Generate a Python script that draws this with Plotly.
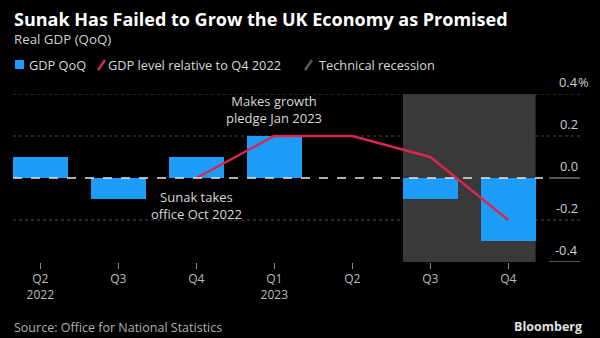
import plotly.graph_objects as go

# ---- data ----
quarters = ["Q2<br>2022", "Q3", "Q4", "Q1<br>2023", "Q2", "Q3", "Q4"]
gdp_qoq = [0.1, -0.1, 0.1, 0.2, 0.0, -0.1, -0.3]
level_quarters_idx = [2, 3, 4, 5, 6]
gdp_level_vs_q4_2022 = [0.0, 0.2, 0.2, 0.1, -0.2]
recession_idx = [5, 6]
ytick_vals = [0.4, 0.2, 0.0, -0.2, -0.4]
ytick_text = ["0.4", "0.2", "0.0", "-0.2", "-0.4"]

W, H = 600, 338
ML, MR, MT, MB = 13, 20, 94, 76
PW, PH = W - ML - MR, H - MT - MB
BAR_W = 0.7
PX_PER_CAT = (508 - 40) / 6

def px_x(px):
    return (px - ML) / PW

def px_y(py):
    return (H - MB - py) / PH

FONT = "Open Sans"
BLUE = "#1E9CFA"
RED = "#D9264E"
SHADE = "#393939"
GRID = "#4d4d4d"

x_idx = list(range(len(quarters)))

fig = go.Figure()
fig.add_trace(go.Bar(x=x_idx, y=gdp_qoq, width=BAR_W, marker=dict(color=BLUE, line=dict(width=0)),
                     name="GDP QoQ", showlegend=False))
fig.add_trace(go.Scatter(x=level_quarters_idx, y=gdp_level_vs_q4_2022, mode="lines",
                         line=dict(color=RED, width=2.5), name="GDP level relative to Q4 2022",
                         showlegend=False))

shapes = []
shapes.append(dict(type="rect", xref="x", yref="y", x0=min(recession_idx) - BAR_W / 2,
                   x1=max(recession_idx) + BAR_W / 2, y0=min(ytick_vals), y1=max(ytick_vals),
                   fillcolor=SHADE, line=dict(width=0), layer="below"))
for v in ytick_vals:
    if v == 0:
        shapes.append(dict(type="line", xref="paper", yref="y", x0=0, x1=px_x(543), y0=v, y1=v,
                           line=dict(color="#e6e6e6", width=1.5, dash="dash"), layer="above"))
        shapes.append(dict(type="line", xref="paper", yref="y", x0=px_x(549), x1=1, y0=v, y1=v,
                           line=dict(color="#8a8a8a", width=1.2), layer="above"))
    elif v == min(ytick_vals):
        shapes.append(dict(type="line", xref="paper", yref="y", x0=px_x(549), x1=1, y0=v, y1=v,
                           line=dict(color="#8a8a8a", width=1.2), layer="above"))
    else:
        shapes.append(dict(type="line", xref="paper", yref="y", x0=0, x1=1, y0=v, y1=v,
                           line=dict(color=GRID, width=1, dash="dot"), layer="below"))

shapes.append(dict(type="rect", xref="paper", yref="paper", x0=px_x(15), x1=px_x(24),
                   y0=px_y(69), y1=px_y(60), fillcolor=BLUE, line=dict(width=0)))
shapes.append(dict(type="line", xref="paper", yref="paper", x0=px_x(98), x1=px_x(105),
                   y0=px_y(70), y1=px_y(60), line=dict(color=RED, width=2.5)))
shapes.append(dict(type="line", xref="paper", yref="paper", x0=px_x(305), x1=px_x(312),
                   y0=px_y(70), y1=px_y(60), line=dict(color="#5a5a5a", width=2.5)))

ann = []
def txt(text, x, y, size=12, color="#d9d9d9", xanchor="left", yanchor="middle", xref="paper",
        yref="paper", family=FONT, align="left", yshift=0, xshift=0):
    ann.append(dict(text=text, x=x, y=y, xref=xref, yref=yref, xanchor=xanchor, yanchor=yanchor,
                    showarrow=False, align=align, yshift=yshift, xshift=xshift,
                    font=dict(family=family, size=size, color=color)))

txt("<b>Sunak Has Failed to Grow the UK Economy as Promised</b>", px_x(12), px_y(19), size=18,
    color="#ffffff")
txt("Real GDP (QoQ)", px_x(12), px_y(39), size=13.3, color="#d0d0d0")
txt("GDP QoQ", px_x(27), px_y(65), size=12.8)
txt("GDP level relative to Q4 2022", px_x(106), px_y(65), size=12.8)
txt("Technical recession", px_x(317), px_y(65), size=12.8)
for v, t in zip(ytick_vals, ytick_text):
    txt(t, 1, v, size=12.8, color="#cfcfcf", xanchor="right", yref="y", yshift=12)
    if v == max(ytick_vals):
        txt("%", 1, v, size=12.8, color="#cfcfcf", xanchor="left", yref="y", yshift=12, xshift=-4)
txt("Makes growth<br>pledge Jan 2023", 3, 0.324, size=13, color="#d9d9d9", xanchor="center",
    xref="x", yref="y", align="center")
txt("Sunak takes<br>office Oct 2022", 2, -0.129, size=13, color="#d9d9d9", xanchor="center",
    xref="x", yref="y", align="center")
txt("Source: Office for National Statistics", px_x(12), px_y(327), size=12.5, color="#b0b0b0")
txt("<b>Bloomberg</b>", px_x(584), px_y(326), size=12.5, color="#e0e0e0", xanchor="right")

fig.update_layout(
    width=W, height=H, margin=dict(l=ML, r=MR, t=MT, b=MB, pad=0),
    paper_bgcolor="#000000", plot_bgcolor="#000000",
    font=dict(family=FONT, color="#cccccc"),
    showlegend=False, bargap=0,
    shapes=shapes, annotations=ann,
    xaxis=dict(range=[-BAR_W / 2, -BAR_W / 2 + PW / PX_PER_CAT],
               tickmode="array", tickvals=x_idx, ticktext=quarters, showgrid=False,
               zeroline=False, showline=False, ticks="outside", ticklen=6, tickcolor="#8a8a8a",
               tickwidth=1, tickfont=dict(family=FONT, size=12, color="#bdbdbd")),
    yaxis=dict(range=[min(ytick_vals), max(ytick_vals)], showgrid=False, zeroline=False,
               showticklabels=False, ticks=""),
)

fig.write_html("out.html")
